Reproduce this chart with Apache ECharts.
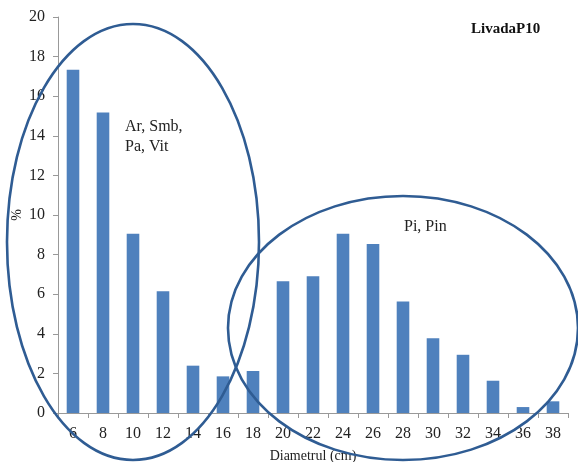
<!DOCTYPE html>
<html><head><meta charset="utf-8">
<script src="https://cdn.jsdelivr.net/npm/echarts@6/dist/echarts.min.js"></script>
<style>html,body{margin:0;padding:0;background:#fff}#c{width:578px;height:462px}</style>
</head><body><div id="c"></div>
<script>
const categories = ['6','8','10','12','14','16','18','20','22','24','26','28','30','32','34','36','38'];
const values = [17.33,15.18,9.05,6.15,2.39,1.85,2.12,6.66,6.91,9.05,8.54,5.63,3.77,2.94,1.63,0.30,0.59];
const yTicks = [0,2,4,6,8,10,12,14,16,18,20];
const title = 'LivadaP10';
const xName = 'Diametrul (cm)';
const yName = '%';
const group1 = ['Ar, Smb,', 'Pa, Vit'];
const group2 = 'Pi, Pin';

const font = '"Liberation Serif", "DejaVu Serif", serif';
const chart = echarts.init(document.getElementById('c'));
const ellColor = '#2F5C93';
chart.setOption({
  animation: false,
  backgroundColor: '#fff',
  grid: {left: 58, top: 17, right: 10, bottom: 49, containLabel: false, outerBoundsMode: 'none'},
  xAxis: {
    type: 'category', data: categories,
    axisLine: {lineStyle: {color: '#999', width: 1}},
    axisTick: {show: true, alignWithLabel: false, length: 5, lineStyle: {color: '#999'}},
    axisLabel: {color: '#222', fontFamily: font, fontSize: 16, margin: 13},
    name: xName, nameLocation: 'middle', nameGap: 36, nameMoveOverlap: false,
    nameTextStyle: {color: '#222', fontFamily: font, fontSize: 14}
  },
  yAxis: {
    type: 'value', min: yTicks[0], max: yTicks[yTicks.length-1], interval: 2,
    splitLine: {show: false},
    axisLine: {show: true, lineStyle: {color: '#999', width: 1}},
    axisTick: {show: true, length: 5, lineStyle: {color: '#999'}},
    axisLabel: {color: '#222', fontFamily: font, fontSize: 16, margin: 13}
  },
  series: [{
    type: 'bar', data: values, barWidth: '42%',
    itemStyle: {color: '#4F81BD'}
  }],
  graphic: [
    {type: 'ellipse', shape: {cx: 133, cy: 242, rx: 126, ry: 218}, style: {fill: 'none', stroke: ellColor, lineWidth: 2.6}, z: 100},
    {type: 'ellipse', shape: {cx: 403, cy: 328, rx: 175, ry: 132}, style: {fill: 'none', stroke: ellColor, lineWidth: 2.6}, z: 100},
    {type: 'text', x: 17, y: 215, rotation: Math.PI / 2, style: {text: yName, font: '14px ' + font, fill: '#222', align: 'center', verticalAlign: 'middle'}, z: 100},
    {type: 'text', left: 125, top: 117, style: {text: group1.join('\n'), font: '16px ' + font, fill: '#222', lineHeight: 20}, z: 100},
    {type: 'text', left: 404, top: 219, style: {text: group2, font: '16px ' + font, fill: '#222'}, z: 100},
    {type: 'text', left: 471, top: 22, style: {text: title, font: 'bold 15px ' + font, fill: '#111'}, z: 100}
  ]
});
</script></body></html>
